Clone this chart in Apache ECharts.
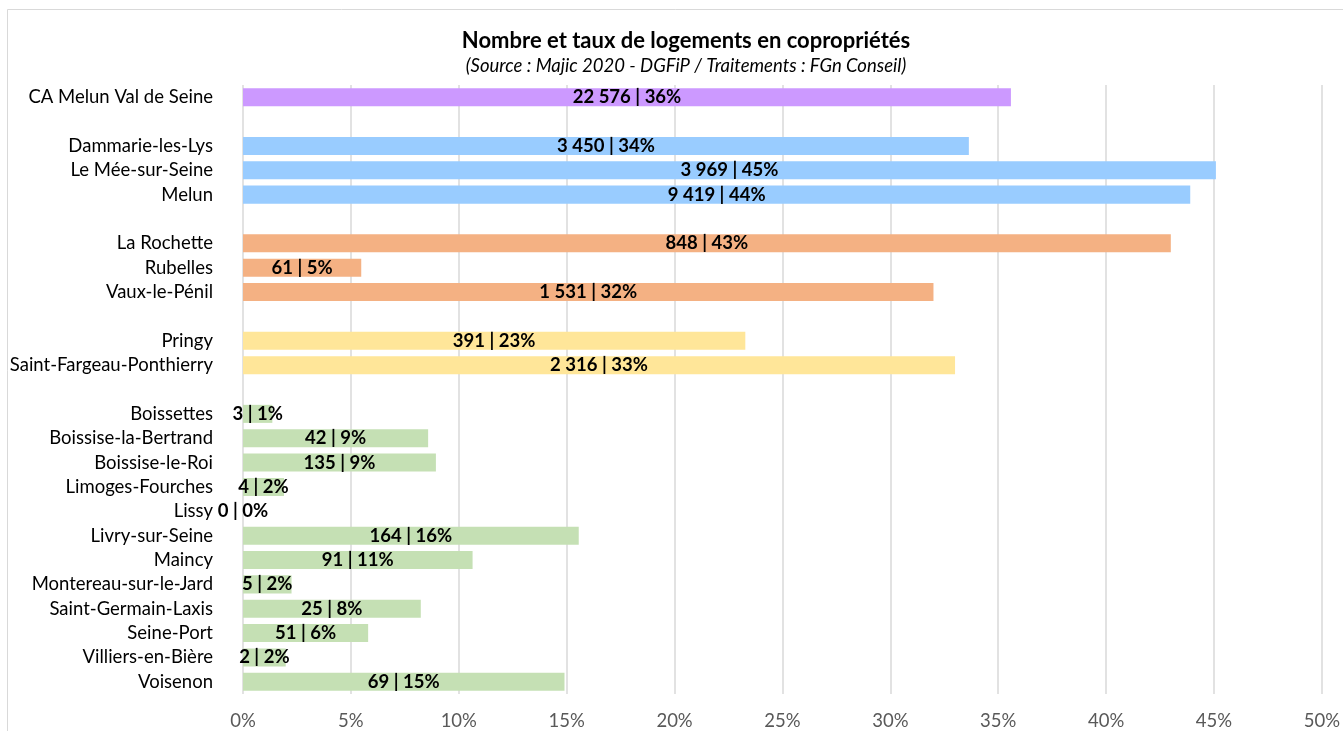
<!DOCTYPE html>
<html>
<head>
<meta charset="utf-8">
<script src="https://cdn.jsdelivr.net/npm/echarts@6/dist/echarts.min.js"></script>
<style>
html,body{margin:0;padding:0;background:#fff;}
#chart{width:1343px;height:731px;}
</style>
</head>
<body>
<div id="chart"></div>
<script>
// Categories ('' = empty spacer rows between groups)
const categories = [
  'CA Melun Val de Seine', '',
  'Dammarie-les-Lys', 'Le Mée-sur-Seine', 'Melun', '',
  'La Rochette', 'Rubelles', 'Vaux-le-Pénil', '',
  'Pringy', 'Saint-Fargeau-Ponthierry', '',
  'Boissettes', 'Boissise-la-Bertrand', 'Boissise-le-Roi', 'Limoges-Fourches', 'Lissy',
  'Livry-sur-Seine', 'Maincy', 'Montereau-sur-le-Jard', 'Saint-Germain-Laxis',
  'Seine-Port', 'Villiers-en-Bière', 'Voisenon'
];
// Group of each row
const groups = [
  'agglo', null,
  'pole', 'pole', 'pole', null,
  'urbain', 'urbain', 'urbain', null,
  'secondaire', 'secondaire', null,
  'rural', 'rural', 'rural', 'rural', 'rural', 'rural', 'rural', 'rural', 'rural', 'rural', 'rural', 'rural'
];
// Share of housing in condominiums (%), bar length
const rates = [
  35.59, null,
  33.64, 45.09, 43.90, null,
  43.00, 5.48, 32.00, null,
  23.28, 33.00, null,
  1.36, 8.58, 8.94, 1.90, 0,
  15.56, 10.64, 2.25, 8.24,
  5.80, 1.98, 14.90
];
// Number of housing units in condominiums
const counts = [
  22576, null,
  3450, 3969, 9419, null,
  848, 61, 1531, null,
  391, 2316, null,
  3, 42, 135, 4, 0,
  164, 91, 5, 25,
  51, 2, 69
];
// Displayed rounded rates
const rateLabels = [
  36, null,
  34, 45, 44, null,
  43, 5, 32, null,
  23, 33, null,
  1, 9, 9, 2, 0,
  16, 11, 2, 8,
  6, 2, 15
];
// X axis ticks
const xTicks = [0, 5, 10, 15, 20, 25, 30, 35, 40, 45, 50];

const groupColors = {
  agglo: '#CC99FF',
  pole: '#99CCFF',
  urbain: '#F4B183',
  secondaire: '#FFE699',
  rural: '#C5E0B4'
};

function fmt(n) {
  return String(n).replace(/\B(?=(\d{3})+(?!\d))/g, ' ');
}

const seriesData = rates.map((v, i) => {
  if (v === null) return { value: null };
  return {
    value: v,
    itemStyle: { color: groupColors[groups[i]] },
    label: { formatter: fmt(counts[i]) + ' | ' + rateLabels[i] + '%' }
  };
});

const chart = echarts.init(document.getElementById('chart'), null, { renderer: 'canvas' });
const font = 'Lato, "Open Sans", sans-serif';
chart.setOption({
  animation: false,
  backgroundColor: '#ffffff',
  textStyle: { fontFamily: font },
  title: {
    text: 'Nombre et taux de logements en copropriétés',
    subtext: '(Source : Majic 2020 - DGFiP / Traitements : FGn Conseil)',
    left: 681,
    textAlign: 'center',
    top: 25,
    itemGap: 5,
    textStyle: { fontFamily: font, fontSize: 22, fontWeight: 'bold', color: '#000000' },
    subtextStyle: { fontFamily: font, fontSize: 18.5, fontStyle: 'italic', color: '#000000' }
  },
  graphic: [{
    type: 'rect',
    shape: { x: 7.5, y: 9.5, width: 1400, height: 800 },
    style: { fill: null, stroke: '#d9d9d9', lineWidth: 1 },
    silent: true
  }],
  grid: { left: 243, right: 20, top: 85, bottom: 37, containLabel: false },
  xAxis: {
    type: 'value',
    min: xTicks[0],
    max: xTicks[xTicks.length - 1],
    interval: 5,
    axisLine: { show: false },
    axisTick: { show: false },
    splitLine: { show: true, lineStyle: { color: '#d9d9d9', width: 1.5 } },
    axisLabel: { formatter: v => v + '%', fontSize: 18.5, color: '#595959', margin: 18, fontFamily: font }
  },
  yAxis: {
    type: 'category',
    data: categories,
    inverse: true,
    axisLine: { show: false },
    axisTick: { show: false },
    axisLabel: { interval: 0, fontSize: 18.5, color: '#000000', margin: 30, fontFamily: font }
  },
  series: [{
    type: 'bar',
    data: seriesData,
    barCategoryGap: '26%',
    label: {
      show: true,
      position: 'inside',
      color: '#000000',
      fontWeight: 'bold',
      fontSize: 18.5,
      fontFamily: font
    }
  }]
});
</script>
</body>
</html>
